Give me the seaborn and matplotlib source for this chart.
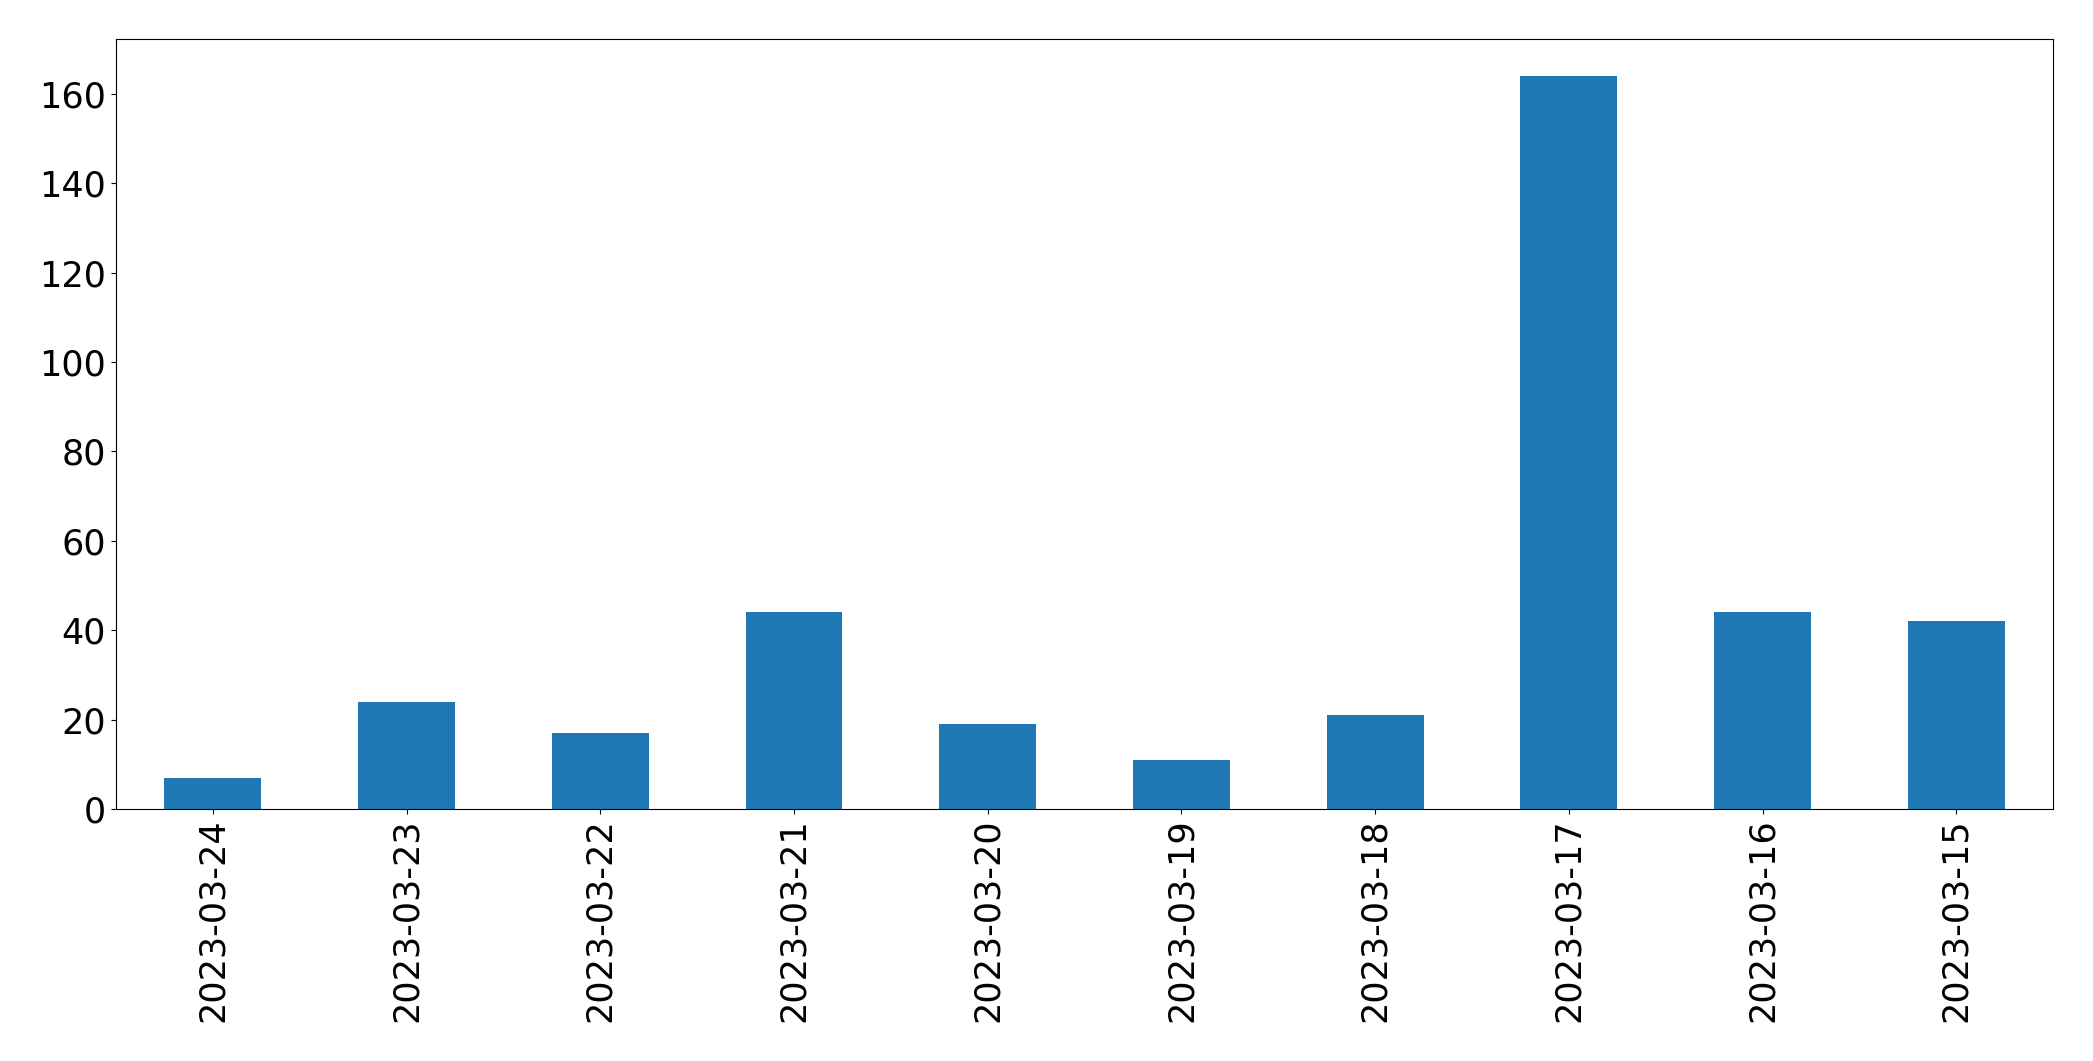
import matplotlib
matplotlib.use('Agg')
import matplotlib.pyplot as plt
import seaborn as sns
import pandas as pd

dates = ['2023-03-24', '2023-03-23', '2023-03-22', '2023-03-21', '2023-03-20',
         '2023-03-19', '2023-03-18', '2023-03-17', '2023-03-16', '2023-03-15']
counts = [7, 24, 17, 44, 19, 11, 21, 164, 44, 42]

df = pd.DataFrame({'date': dates, 'count': counts})

fig = plt.figure(figsize=(20.93, 10.61), dpi=100)
ax = fig.add_axes([0.0554, 0.2375, 0.9256, 0.7255])
sns.barplot(data=df, x='date', y='count', order=dates, color='#1f77b4',
            saturation=1, width=0.5, linewidth=0, ax=ax)
ax.set_xlim(-0.5, len(dates) - 0.5)
ax.set_ylim(0, max(counts) * 1.05)
ax.set_xlabel('')
ax.set_ylabel('')
ax.tick_params(axis='both', labelsize=25.2)
plt.setp(ax.get_xticklabels(), rotation=90)
fig.savefig('out.png', dpi=100)
